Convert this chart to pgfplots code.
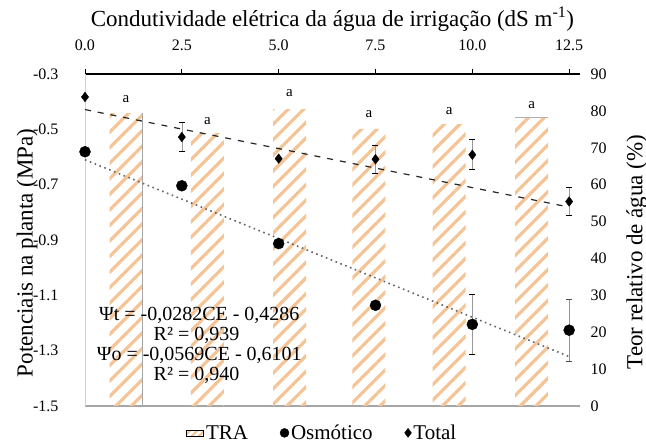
\documentclass[border=0pt]{standalone}
\usepackage{fontspec}
\setmainfont{Liberation Serif}
\usepackage{pgfplots}
\pgfplotsset{compat=1.18}
\usetikzlibrary{patterns.meta}
\definecolor{tra}{RGB}{245,196,150}
\definecolor{errtan}{RGB}{190,140,80}
\begin{document}
\begin{tikzpicture}
\useasboundingbox (0,0) rectangle (646pt,444pt);
% ---------- right axis: TRA bars ----------
\begin{axis}[
  at={(85pt,38pt)}, anchor=south west, scale only axis,
  width=495pt, height=332pt,
  xmin=0, xmax=12.78, ymin=0, ymax=90,
  axis line style={-},
  axis x line*=bottom, x axis line style={draw=gray!70, line width=1.5pt},
  xtick=\empty,
  axis y line*=right, y axis line style={draw=none},
  ytick pos=right, yticklabel pos=right,
  ytick={0,10,20,30,40,50,60,70,80,90},
  yticklabels={0,10,20,30,40,50,60,70,80,90},
  major tick length=0pt,
  yticklabel style={font=\fontsize{16}{19}\selectfont, anchor=west, xshift=7pt},
  ylabel={Teor relativo de água (\%)},
  ylabel style={font=\fontsize{23}{27}\selectfont, at={(axis description cs:1.115,0.464)}, anchor=center},
]
\addplot[ybar, bar width=33pt, draw=none, pattern={Lines[angle=45,distance=11pt,line width=3.2pt]}, pattern color=tra]
  coordinates {(1.06,79.4) (3.16,74.0) (5.28,80.5) (7.33,75.1) (9.40,76.4) (11.53,78.1)};
% grey edges seen on the first and last bars
\addplot[gray!70, line width=1.2pt] coordinates {(1.486,0) (1.486,79.4)};
\addplot[gray!60, line width=1.2pt] coordinates {(11.104,78.1) (11.956,78.1)};
\node[font=\fontsize{15}{18}\selectfont] at (axis cs:1.06,83.2) {a};
\node[font=\fontsize{15}{18}\selectfont] at (axis cs:3.16,77.3) {a};
\node[font=\fontsize{15}{18}\selectfont] at (axis cs:5.28,84.8) {a};
\node[font=\fontsize{15}{18}\selectfont] at (axis cs:7.33,79.2) {a};
\node[font=\fontsize{15}{18}\selectfont] at (axis cs:9.40,80.0) {a};
\node[font=\fontsize{15}{18}\selectfont] at (axis cs:11.53,81.6) {a};
\end{axis}
% ---------- left axis: potentials ----------
\begin{axis}[
  at={(85pt,38pt)}, anchor=south west, scale only axis,
  width=495pt, height=332pt,
  xmin=0, xmax=12.78, ymin=-1.5, ymax=-0.3,
  axis line style={-},
  axis x line*=top, x axis line style={draw=black, line width=1.5pt},
  xtick pos=right, xticklabel pos=right,
  xtick={0,2.5,5,7.5,10,12.5},
  xticklabels={0.0,2.5,5.0,7.5,10.0,12.5},
  xtick style={black, line width=1pt},
  tick align=outside, major tick length=5pt,
  xticklabel style={font=\fontsize{16}{19}\selectfont, anchor=base, yshift=18pt},
  axis y line*=left, y axis line style={draw=gray!35, line width=1pt},
  ytick pos=left, yticklabel pos=left,
  ytick={-1.5,-1.3,-1.1,-0.9,-0.7,-0.5,-0.3},
  yticklabels={-1.5,-1.3,-1.1,-0.9,-0.7,-0.5,-0.3},
  ytick style={draw=none},
  yticklabel style={font=\fontsize{16}{19}\selectfont, anchor=east, xshift=-18pt},
  xlabel={Condutividade elétrica da água de irrigação (dS m\textsuperscript{-1})},
  xlabel style={font=\fontsize{23}{27}\selectfont, at={(axis description cs:0.5,1)}, anchor=base, yshift=47pt},
  ylabel={Potenciais na planta (MPa)},
  ylabel style={font=\fontsize{23}{27}\selectfont, at={(axis description cs:-0.117,0.461)}, anchor=center},
  legend style={at={(0.478,-0.081)}, anchor=center, draw=none, fill=none,
    legend columns=3, font=\fontsize{21}{24}\selectfont,
    /tikz/every even column/.append style={column sep=30pt}},
  clip=false,
]
\addlegendimage{area legend, draw=none, pattern={Lines[angle=45,distance=5pt,line width=2pt]}, pattern color=tra}
\addlegendentry{TRA}
\addlegendimage{only marks, mark=*, mark size=4.5pt, black}
\addlegendentry{Osmótico}
\addlegendimage{only marks, mark=diamond*, mark size=4.5pt, black}
\addlegendentry{Total}
% trend lines
\addplot[forget plot, black!85, line width=1.2pt, dash pattern=on 6pt off 7pt]
  coordinates {(0,-0.4286) (12.5,-0.7811)};
\addplot[forget plot, black!60, line width=1.6pt, dash pattern=on 1.6pt off 3.6pt]
  coordinates {(0,-0.6101) (12.5,-1.3214)};
% osmotic potential
\addplot[forget plot, only marks, mark=*, mark size=5.5pt, black,
  error bars/.cd, y dir=both, y explicit,
  error bar style={line width=0.4pt, black!40},
  error mark options={rotate=90, mark size=3pt, line width=1pt, black}]
  coordinates {(0,-0.581) +- (0,0) (2.5,-0.704) +- (0,0) (5,-0.913) +- (0,0)
               (7.5,-1.136) +- (0,0) (10,-1.205) +- (0,0.108)};
\addplot[forget plot, only marks, mark=*, mark size=5.5pt, black,
  error bars/.cd, y dir=both, y explicit,
  error bar style={line width=1.2pt, errtan},
  error mark options={rotate=90, mark size=3pt, line width=1pt, black!70}]
  coordinates {(12.5,-1.226) +- (0,0.112)};
% total potential
\addplot[forget plot, only marks, mark=diamond*, mark size=4.8pt, black,
  error bars/.cd, y dir=both, y explicit,
  error bar style={line width=0.4pt, black!40},
  error mark options={rotate=90, mark size=3pt, line width=1pt, black}]
  coordinates {(0,-0.383) +- (0,0) (2.5,-0.528) +- (0,0.052) (5,-0.606) +- (0,0)
               (7.5,-0.608) +- (0,0.05) (10,-0.592) +- (0,0.054) (12.5,-0.761) +- (0,0.05)};
% regression equations
\node[font=\fontsize{20}{24}\selectfont] at (axis cs:2.95,-1.171) {Ψt = -0,0282CE - 0,4286};
\node[font=\fontsize{20}{24}\selectfont] at (axis cs:2.88,-1.243) {R² = 0,939};
\node[font=\fontsize{20}{24}\selectfont] at (axis cs:2.95,-1.316) {Ψo = -0,0569CE - 0,6101};
\node[font=\fontsize{20}{24}\selectfont] at (axis cs:2.88,-1.388) {R² = 0,940};
\end{axis}
\end{tikzpicture}
\end{document}
